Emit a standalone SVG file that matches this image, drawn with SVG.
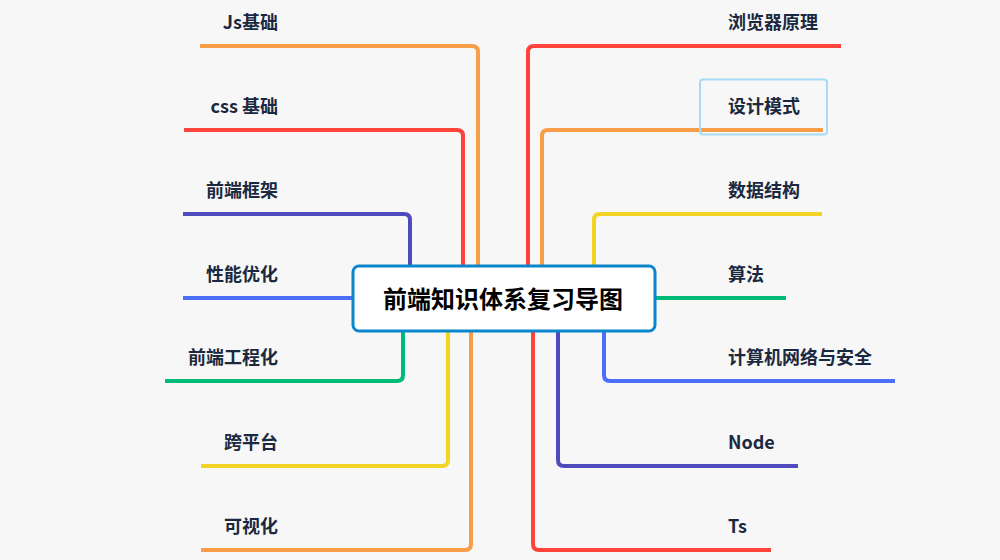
<svg xmlns="http://www.w3.org/2000/svg" width="1000" height="560" viewBox="0 0 1000 560">
<style>
.c{fill:none;stroke-width:4;stroke-linejoin:round}
.lbl{font-family:"Noto Sans CJK SC","Liberation Sans",sans-serif;font-size:18px;font-weight:bold;fill:#1b2940}
.l{text-anchor:end}
.org{stroke:#f89d48}.red{stroke:#fd443b}.ind{stroke:#4f4bbd}.blu{stroke:#4a6ef8}.grn{stroke:#00bb77}.yel{stroke:#f3d323}
</style>
<rect width="1000" height="560" fill="#f7f7f7"/>
<g id="connectors">
<path class="c org" d="M478,290 V52 Q478,46 472,46 H200"/>
<path class="c red" d="M463,290 V136 Q463,130 457,130 H184"/>
<path class="c ind" d="M410,290 V220 Q410,214 404,214 H183"/>
<path class="c blu" d="M380,298 H183"/>
<path class="c grn" d="M403,300 V375 Q403,381 397,381 H165"/>
<path class="c yel" d="M448,300 V460 Q448,466 442,466 H201"/>
<path class="c org" d="M471,300 V544 Q471,550 465,550 H201"/>
<path class="c red" d="M528,290 V52 Q528,46 534,46 H841"/>
<path class="c org" d="M542,290 V136 Q542,130 548,130 H823"/>
<path class="c yel" d="M594,290 V220 Q594,214 600,214 H822"/>
<path class="c grn" d="M630,298 H786"/>
<path class="c blu" d="M604,300 V375 Q604,381 610,381 H895"/>
<path class="c ind" d="M558,300 V460 Q558,466 564,466 H798"/>
<path class="c red" d="M533,300 V544 Q533,550 539,550 H771"/>
</g>
<g id="root">
<rect x="353" y="266" width="302" height="65" rx="6" fill="#ffffff" stroke="#0a86cc" stroke-width="3"/>
<text x="503" y="308" text-anchor="middle" font-family="Noto Sans CJK SC,Liberation Sans,sans-serif" font-size="24" font-weight="bold" fill="#000">前端知识体系复习导图</text>
</g>
<g id="n-js"><text class="lbl l" x="278" y="29">Js基础</text></g>
<g id="n-css"><text class="lbl l" x="278" y="113">css 基础</text></g>
<g id="n-fw"><text class="lbl l" x="278" y="197">前端框架</text></g>
<g id="n-perf"><text class="lbl l" x="278" y="281">性能优化</text></g>
<g id="n-eng"><text class="lbl l" x="278" y="364">前端工程化</text></g>
<g id="n-cross"><text class="lbl l" x="278" y="449">跨平台</text></g>
<g id="n-vis"><text class="lbl l" x="278" y="533">可视化</text></g>
<g id="n-browser"><text class="lbl" x="728" y="29">浏览器原理</text></g>
<g id="n-pattern">
<rect x="700" y="79.5" width="127" height="55" rx="3" fill="none" stroke="#a6dbf3" stroke-width="2"/>
<text class="lbl" x="728" y="113">设计模式</text>
</g>
<g id="n-ds"><text class="lbl" x="728" y="197">数据结构</text></g>
<g id="n-algo"><text class="lbl" x="728" y="281">算法</text></g>
<g id="n-net"><text class="lbl" x="728" y="364">计算机网络与安全</text></g>
<g id="n-node"><text class="lbl" x="728" y="449">Node</text></g>
<g id="n-ts"><text class="lbl" x="728" y="533">Ts</text></g>
</svg>
